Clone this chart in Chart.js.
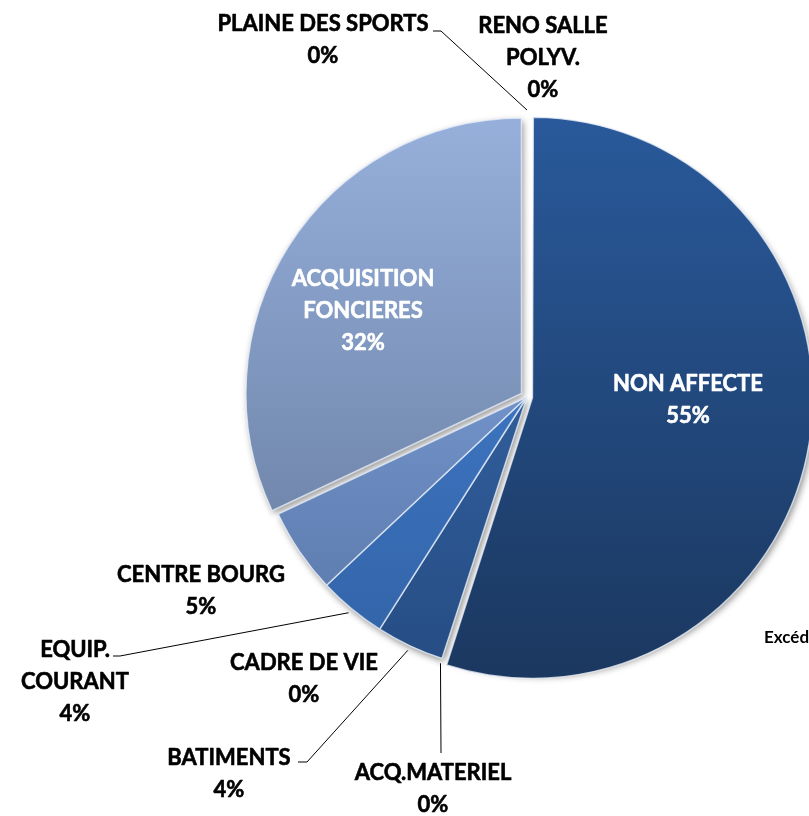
<!DOCTYPE html>
<html><head><meta charset="utf-8">
<script src="https://cdn.jsdelivr.net/npm/chart.js@4.4.1/dist/chart.umd.min.js"></script>
<style>
html,body{margin:0;padding:0;width:809px;height:816px;overflow:hidden;background:#fff;}
#wrap{position:absolute;left:0;top:0;width:1054px;height:816px;}
</style></head><body>
<div id="wrap"><canvas id="c" width="1054" height="816"></canvas></div>
<script>
// ---- data ----
const categories = ['NON AFFECTE','ACQ.MATERIEL','BATIMENTS','CADRE DE VIE','EQUIP. COURANT','CENTRE BOURG','ACQUISITION FONCIERES','PLAINE DES SPORTS','RENO SALLE POLYV.'];
const labelLines = [['NON AFFECTE'],['ACQ.MATERIEL'],['BATIMENTS'],['CADRE DE VIE'],['EQUIP.','COURANT'],['CENTRE BOURG'],['ACQUISITION','FONCIERES'],['PLAINE DES SPORTS'],['RENO SALLE','POLYV.']];
const values = [55, 0, 4, 0, 4, 5, 32, 0, 0];
const topColors    = ['#29599a','#2b5893','#3a6db0','#2f5e9c','#4886d8','#8cb0ea','#96b0db','#96b0db','#96b0db'];
const bottomColors = ['#1b3860','#234a80','#264d84','#264d84','#3162a6','#5674a6','#63779a','#63779a','#63779a'];
const sliceOffsets = [22, 0, 0, 0, 0, 0, 26, 0, 0];

// ---- layout (label placement) ----
const PIE_R = 275;
const labelLayout = [
  {x:688, y:391, color:'#ffffff'},
  {x:433, y:780, leader:[[441,753]]},
  {x:229, y:765, leader:[[298,762],[307,762]]},
  {x:304, y:670},
  {x:75,  y:657, leader:[[113,656],[120,656]]},
  {x:201, y:582},
  {x:363, y:286, color:'#ffffff'},
  {x:323, y:31,  leader:[[433,31],[441,31]], extra:12},
  {x:543, y:33}
];
const FONT = 'bold 22px Lato, "Open Sans", sans-serif';
const LINE_H = 32;

const shadowPlugin = {
  id:'pieShadow',
  beforeDatasetsDraw(chart){
    const ctx = chart.ctx;
    const meta = chart.getDatasetMeta(0);
    ctx.save();
    ctx.shadowColor = 'rgba(0,0,0,0.45)';
    ctx.shadowBlur = 7;
    ctx.shadowOffsetX = 2;
    ctx.shadowOffsetY = 3;
    ctx.fillStyle = '#ffffff';
    meta.data.forEach((arc) => {
      const p = arc.getProps(['x','y','startAngle','endAngle','outerRadius','circumference'], true);
      if (!p.circumference) return;
      const off = (arc.options.offset || 0) / 4;
      const fix = 1 - Math.sin(Math.min(Math.PI, p.circumference));
      const t = off + off * fix;
      const half = (p.startAngle + p.endAngle) / 2;
      const cx = p.x + Math.cos(half) * t, cy = p.y + Math.sin(half) * t;
      ctx.beginPath();
      ctx.moveTo(cx, cy);
      ctx.arc(cx, cy, p.outerRadius, p.startAngle, p.endAngle);
      ctx.closePath();
      ctx.fill();
    });
    ctx.restore();
  }
};

const labelPlugin = {
  id:'pieLabels',
  afterDraw(chart){
    const ctx = chart.ctx;
    const meta = chart.getDatasetMeta(0);
    const total = values.reduce((a,b)=>a+b,0);
    ctx.save();
    // leader lines
    ctx.strokeStyle = '#000';
    ctx.lineWidth = 1;
    labelLayout.forEach((L, i) => {
      if (!L.leader) return;
      const arc = meta.data[i];
      const p = arc.getProps(['x','y','startAngle','endAngle','outerRadius'], true);
      const mid = (p.startAngle + p.endAngle) / 2;
      const rr = p.outerRadius + (L.extra || 5);
      const ax = p.x + Math.cos(mid) * rr, ay = p.y + Math.sin(mid) * rr;
      ctx.beginPath();
      ctx.moveTo(L.leader[0][0], L.leader[0][1]);
      for (let k = 1; k < L.leader.length; k++) ctx.lineTo(L.leader[k][0], L.leader[k][1]);
      ctx.lineTo(ax, ay);
      ctx.stroke();
    });
    // texts
    ctx.font = FONT;
    ctx.textAlign = 'center';
    ctx.textBaseline = 'alphabetic';
    ctx.lineJoin = 'round';
    labelLayout.forEach((L, i) => {
      const lines = labelLines[i].concat([Math.round(values[i] / total * 100) + '%']);
      const col = L.color || '#000000';
      ctx.fillStyle = col;
      ctx.strokeStyle = col;
      ctx.lineWidth = 0.6;
      lines.forEach((s, k) => {
        ctx.fillText(s, L.x, L.y + k * LINE_H);
        ctx.strokeText(s, L.x, L.y + k * LINE_H);
      });
    });
    ctx.font = 'bold 17px Lato, "Open Sans", sans-serif';
    ctx.textAlign = 'left';
    ctx.fillStyle = '#000';
    ctx.fillText('Excédent de fonctionnement', 764, 643);
    ctx.restore();
  }
};

new Chart(document.getElementById('c'), {
  type:'pie',
  data:{
    labels: categories,
    datasets:[{
      data: values,
      offset: sliceOffsets,
      borderWidth: 1.5,
      borderColor: 'rgba(235,240,248,0.75)',
      backgroundColor: (c) => {
        if (c.type !== 'data') return '#000';
        const area = c.chart.chartArea;
        const i = c.dataIndex;
        if (!area) return topColors[i];
        const cy = (area.top + area.bottom) / 2;
        const g = c.chart.ctx.createLinearGradient(0, cy - PIE_R, 0, cy + PIE_R);
        g.addColorStop(0, topColors[i]);
        g.addColorStop(1, bottomColors[i]);
        return g;
      }
    }]
  },
  options:{
    responsive:false,
    animation:false,
    events:[],
    radius: PIE_R,
    layout:{padding:{top:0,left:0,right:0,bottom:22}},
    plugins:{legend:{display:false}, tooltip:{enabled:false}, title:{display:false}}
  },
  plugins:[shadowPlugin, labelPlugin]
});
</script>
</body></html>
